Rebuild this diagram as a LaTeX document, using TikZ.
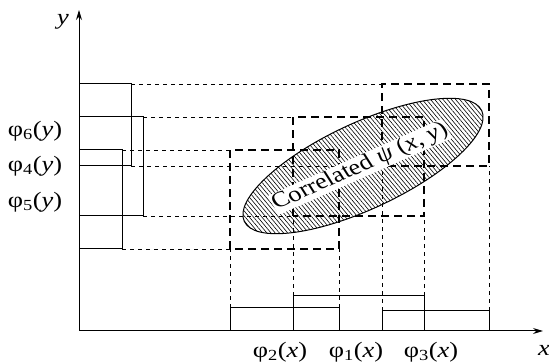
\documentclass[tikz,border=0pt]{standalone}
\usepackage{fontspec}
\setmainfont{Liberation Serif}
\usepackage{xcolor}
\usepackage{tikz}
\usetikzlibrary{arrows.meta,patterns.meta}

\tikzset{
  bar/.style={line width=1pt},
  thin dash/.style={line width=0.5pt,dash pattern=on 4pt off 4pt},
  heavy dash/.style={line width=1.1pt,dash pattern=on 8pt off 5pt},
  lbl/.style={font=\fontsize{22}{26}\selectfont,inner sep=0pt,xscale=1.2}
}

\begin{document}
\begin{tikzpicture}[x=1pt,y=1pt]
	\useasboundingbox (0,0) rectangle (549,363);
	% axes
	\draw [line width=1pt,-{Stealth[length=10pt,width=6pt]}] (79,32) -- (79,353);
	\draw [line width=1pt,-{Stealth[length=10pt,width=6pt]}] (79,32) -- (543,32);
	\node[lbl] (ylab) at (63,341) {\textit{y}};
	\node[lbl] (xlab) at (544,13) {\textit{x}};
	% x bar / y bar / joint box
	\foreach \xl/\xr/\xh/\yb/\yt/\yr in {230/339/55/114/213/122, 293/424/67/147/246/143, 382/489/52/197/279/131} {
		\draw [thin dash] (\yr,\yt) -- (\xl,\yt);
		\draw [thin dash] (\yr,\yb) -- (\xl,\yb);
		\draw [thin dash] (\xl,\xh) -- (\xl,\yb);
		\draw [thin dash] (\xr,\xh) -- (\xr,\yb);
		\draw [heavy dash] (\xl,\yb) rectangle (\xr,\yt);
		\draw [bar] (\xl,32) rectangle (\xr,\xh);
		\draw [bar] (79,\yb) rectangle (\yr,\yt);
	}
	% correlated density
	\draw [line width=1pt,pattern={Lines[angle=-50,distance=3.2pt,line width=0.6pt]}] (363,197) ellipse [x radius=131, y radius=43, rotate=25];
	\node[lbl,fill=white,rotate=28,inner sep=0.5pt] (psi) at (360,196) {Correlated \textit{ψ} (\textit{x}, \textit{y})};
	% marginals
	\node[lbl] (phi6) at (35,232) {φ\textsubscript{6}(\textit{y})};
	\node[lbl] (phi4) at (35,197) {φ\textsubscript{4}(\textit{y})};
	\node[lbl] (phi5) at (35,161) {φ\textsubscript{5}(\textit{y})};
	\node[lbl] (phi2) at (280,11) {φ\textsubscript{2}(\textit{x})};
	\node[lbl] (phi1) at (356,11) {φ\textsubscript{1}(\textit{x})};
	\node[lbl] (phi3) at (431,11) {φ\textsubscript{3}(\textit{x})};
\end{tikzpicture}
\end{document}
